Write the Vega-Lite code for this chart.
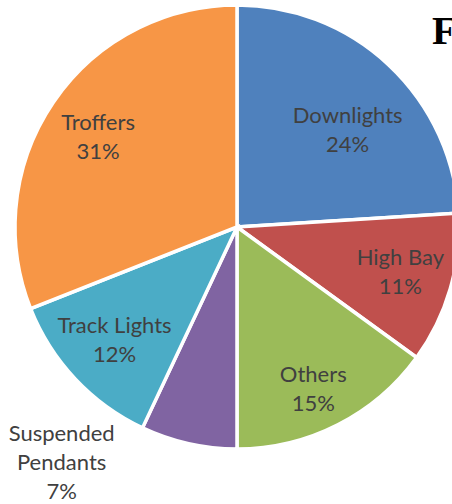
{
  "$schema": "https://vega.github.io/schema/vega-lite/v6.json",
  "width": 430,
  "height": 454,
  "autosize": {"type": "none"},
  "padding": {"left": 22, "top": 0, "right": 0, "bottom": 50},
  "background": "white",
  "view": {"stroke": null},
  "title": {"text": "F", "anchor": "start", "frame": "group", "orient": "bottom", "dx": 410, "offset": -459, "font": "Liberation Serif", "fontSize": 40, "fontWeight": "bold", "color": "black", "baseline": "alphabetic"},
  "data": {"values": [
    {"category": "Downlights", "pct": 24, "label": "Downlights\n24%"},
    {"category": "High Bay", "pct": 11, "label": "High Bay\n11%"},
    {"category": "Others", "pct": 15, "label": "Others\n15%"},
    {"category": "Suspended Pendants", "pct": 7, "label": "Suspended\nPendants\n7%"},
    {"category": "Track Lights", "pct": 12, "label": "Track Lights\n12%"},
    {"category": "Troffers", "pct": 31, "label": "Troffers\n31%"}
  ]},
  "encoding": {"theta": {"field": "pct", "type": "quantitative", "stack": true}},
  "layer": [
    {
      "mark": {"type": "arc", "outerRadius": 222, "stroke": "white", "strokeWidth": 3.5},
      "encoding": {"color": {"field": "category", "type": "nominal", "legend": null,
        "scale": {"domain": ["Downlights", "High Bay", "Others", "Suspended Pendants", "Track Lights", "Troffers"],
                  "range": ["#4F81BD", "#C0504D", "#9BBB59", "#8064A2", "#4BACC6", "#F79646"]}}}
    },
    {
      "mark": {"type": "text", "font": "Lato", "fontSize": 22, "lineBreak": "\n", "lineHeight": 29, "fill": "#404040", "align": "center", "baseline": "middle",
        "dx": {"expr": "datum.category === 'Downlights' ? 8 : datum.category === 'Suspended Pendants' ? -123 : datum.category === 'High Bay' ? 2 : 0"},
        "dy": {"expr": "datum.category === 'Downlights' ? -2 : datum.category === 'Suspended Pendants' ? -27 : datum.category === 'Others' ? -2 : datum.category === 'Troffers' ? -10 : -16"}},
      "encoding": {
        "detail": {"field": "category", "type": "nominal"},
        "text": {"field": "label", "type": "nominal"},
        "radius": {"value": {"expr": "datum.category === 'Downlights' ? 150 : datum.category === 'Suspended Pendants' ? 240 : 168"}}
      }
    }
  ]
}
